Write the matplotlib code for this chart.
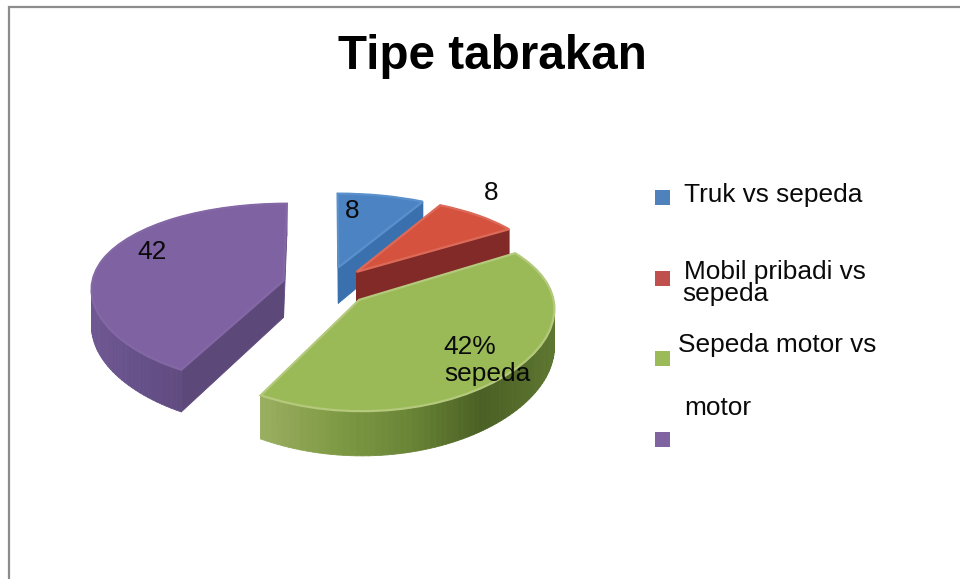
import matplotlib
matplotlib.use('Agg')
import matplotlib.pyplot as plt
import matplotlib.transforms as mtransforms
from matplotlib.collections import PolyCollection
from matplotlib.colors import LinearSegmentedColormap
from matplotlib.patches import Rectangle
import numpy as np

plt.rcParams['font.family'] = ['Liberation Sans', 'DejaVu Sans']

# data
values = [8, 8, 42, 42]
explode = [0.22, 0.22, 0.22, 0.24]
slice_labels = ['8', '8', '42%', 'sepeda', '42']
legend_names = ['Truk vs sepeda', 'Mobil pribadi vs', 'sepeda', 'Sepeda motor vs', 'motor']
title = 'Tipe tabrakan'

top_colors = ['#4b83c3', '#d5523f', '#9aba57', '#7e62a2']
swatch_colors = ['#4f81bd', '#c0504d', '#9bbb59', '#8064a2']
wall_colors = [
    ['#3a70ad', '#3a70ad'],
    ['#842c29', '#7a2624'],
    ['#9aae60', '#7f9a45', '#6a8536', '#4a6024', '#5d7630'],
    ['#6f5892', '#644e86', '#5c4879', '#5f4a7e'],
]
rim_colors = ['#5a90cc', '#dd6a58', '#b4c97c', '#8468a6']

# projection of the pie plane to pixels
CX, CY = 328, 286
RX, RY = 192, 90
PERSP_X = 0.08
PERSP_Y = 0.15
DEPTH = 37


def project(u, v, z=0.0):
    sx = 1.0 / (1.0 + PERSP_X * v)
    sy = 1.0 / (1.0 + PERSP_Y * v)
    return CX + RX * u * sx, CY - RY * v * sy + DEPTH * z * sy


class PlaneTransform(mtransforms.Transform):
    input_dims = 2
    output_dims = 2
    is_separable = False
    has_inverse = False

    def transform_non_affine(self, values):
        xy = np.asarray(values, dtype=float)
        x, y = project(xy[:, 0], xy[:, 1])
        return np.column_stack([x, y])


fig = plt.figure(figsize=(9.6, 5.79), dpi=100, facecolor='white')
ax = fig.add_axes([0, 0, 1, 1])

wedges, _ = ax.pie(values, explode=explode, startangle=90, counterclock=False,
                   colors=top_colors, radius=1)
ax.set_aspect('auto')
ax.set_xlim(0, 960)
ax.set_ylim(579, 0)
ax.axis('off')

# frame, only left and top are visible
ax.plot([9, 9, 960], [579, 7, 7], color='#8c8c8c', lw=1.6, solid_joinstyle='miter', zorder=1)

# back slices first, green is in front of everything
plane = PlaneTransform()
for order, i in enumerate([0, 1, 3, 2]):
    w = wedges[i]
    th = np.radians(np.linspace(w.theta1, w.theta2, 90))
    u = np.r_[w.center[0], w.center[0] + w.r * np.cos(th), w.center[0]]
    v = np.r_[w.center[1], w.center[1] + w.r * np.sin(th), w.center[1]]
    xt, yt = project(u, v, 0)
    xb, yb = project(u, v, 1)

    quads = []
    for j in range(len(u) - 1):
        quads.append([(xt[j], yt[j]), (xt[j + 1], yt[j + 1]), (xb[j + 1], yb[j + 1]), (xb[j], yb[j])])
    quads = np.array(quads)
    depth_key = (v[:-1] + v[1:]) / 2
    seq = np.argsort(-depth_key)

    # wall shading runs left to right
    cmap = LinearSegmentedColormap.from_list('wall', wall_colors[i])
    mid_x = quads[:, :, 0].mean(axis=1)
    frac = (mid_x - mid_x.min()) / (mid_x.max() - mid_x.min())
    cols = cmap(frac[seq])
    pc = PolyCollection(quads[seq], facecolors=cols, edgecolors=cols, linewidths=0.6,
                        zorder=2 + order * 2)
    ax.add_collection(pc)

    w.set_transform(plane + ax.transData)
    w.set_edgecolor(rim_colors[i])
    w.set_linewidth(1.6)
    w.set_zorder(3 + order * 2)

# value labels
label_x = [345, 484, 443, 444, 137]
label_y = [218, 200, 354, 381, 259]
for txt, x, y in zip(slice_labels, label_x, label_y):
    ax.text(x, y, txt, fontsize=18.9, color='#0a0a0a', ha='left', va='baseline', zorder=20)

# legend is placed by hand, the spacing in the original is irregular
swatch_y = [190, 271, 351, 432]
for c, y in zip(swatch_colors, swatch_y):
    ax.add_patch(Rectangle((655, y), 15, 15, facecolor=c, edgecolor='none', zorder=20))

name_x = [684, 684, 682, 678, 684]
name_y = [202, 279, 301, 352, 415]
for txt, x, y in zip(legend_names, name_x, name_y):
    ax.text(x, y, txt, fontsize=18.9, color='#0a0a0a', ha='left', va='baseline', zorder=20)

ax.text(492, 69, title, fontsize=34.3, fontweight='bold', color='black',
        ha='center', va='baseline', zorder=20)

fig.savefig('out.png', dpi=100, facecolor='white')
